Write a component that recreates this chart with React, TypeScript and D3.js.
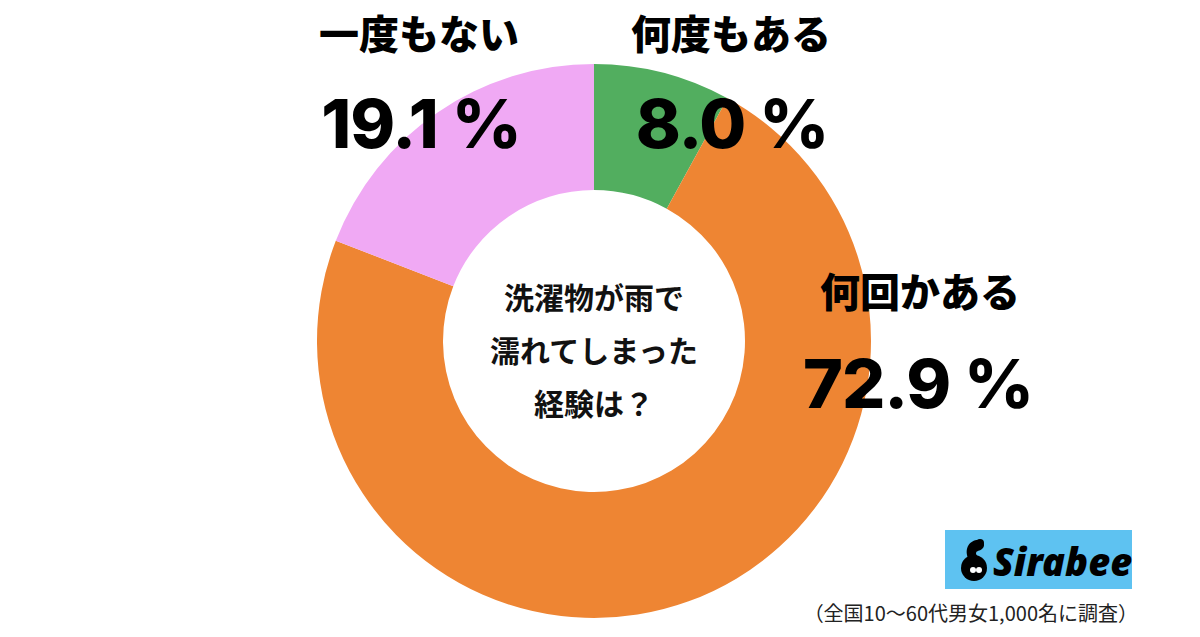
import React from "react";
import * as d3 from "d3";

const categories = ["何度もある", "何回かある", "一度もない"];
const values = [8.0, 72.9, 19.1];
const colors = ["#52AE5F", "#EE8533", "#F0A9F4"];
const centerLines = ["洗濯物が雨で", "濡れてしまった", "経験は？"];
const footnote = "（全国10〜60代男女1,000名に調査）";

const W = 1200, H = 637;
const cx = 594, cy = 341, R = 277, r = 151;

const labelPos = [
  { x: 731, y: 32, px: 732, py: 123 },
  { x: 920, y: 290, px: 918, py: 383 },
  { x: 419, y: 32, px: 421, py: 123 },
];

export default function App() {
  const pie = d3.pie<number>().sort(null).value((d) => d);
  const arcs = pie(values);
  const arc = d3.arc<d3.PieArcDatum<number>>().innerRadius(r).outerRadius(R);
  const jp = "'Noto Sans CJK JP', 'Noto Sans', sans-serif";
  const num = "Inter, 'Noto Sans', sans-serif";
  return (
    <svg width={W} height={H} style={{ position: "absolute", left: 0, top: 0 }}>
      <rect width={W} height={H} fill="#fff" />
      <g transform={`translate(${cx},${cy})`}>
        {arcs.map((a, i) => (
          <path key={i} d={arc(a) || ""} fill={colors[i]} />
        ))}
      </g>
      {centerLines.map((t, i) => (
        <text key={i} x={cx} y={296 + i * 53} textAnchor="middle" dominantBaseline="central"
          fontFamily={jp} fontWeight={700} fontSize={30} fill="#111">{t}</text>
      ))}
      {categories.map((c, i) => (
        <g key={c}>
          <text x={labelPos[i].x} y={labelPos[i].y} textAnchor="middle" dominantBaseline="central"
            fontFamily={jp} fontWeight={900} fontSize={40} fill="#000">{c}</text>
          <text x={labelPos[i].px} y={labelPos[i].py} textAnchor="middle" dominantBaseline="central"
            fontFamily={num} fontWeight={800} fontSize={68} letterSpacing={-1} fill="#000">{values[i].toFixed(1)} %</text>
        </g>
      ))}
      <g>
        <rect x={945} y={530} width={187} height={59} fill="#5EC2F1" />
        <g transform="translate(974,562)">
          <circle cx={0} cy={6} r={13} fill="#000" />
          <path d="M-6,-4 C-10,-14 -4,-22 4,-22 C10,-22 12,-16 8,-13 C4,-10 2,-12 2,-8 L6,-2 Z" fill="#000" />
          <circle cx={6} cy={-19} r={4} fill="#000" />
          <circle cx={-1} cy={8} r={3} fill="#fff" />
          <circle cx={5} cy={8} r={3} fill="#fff" />
        </g>
        <text x={993} y={561} dominantBaseline="central" fontFamily="'Noto Sans', sans-serif"
          fontWeight={900} fontStyle="italic" fontSize={38} fill="#000">Sirabee</text>
      </g>
      <text x={1138} y={612} textAnchor="end" dominantBaseline="central" fontFamily={jp}
        fontWeight={400} fontSize={20} fill="#222">{footnote}</text>
    </svg>
  );
}
